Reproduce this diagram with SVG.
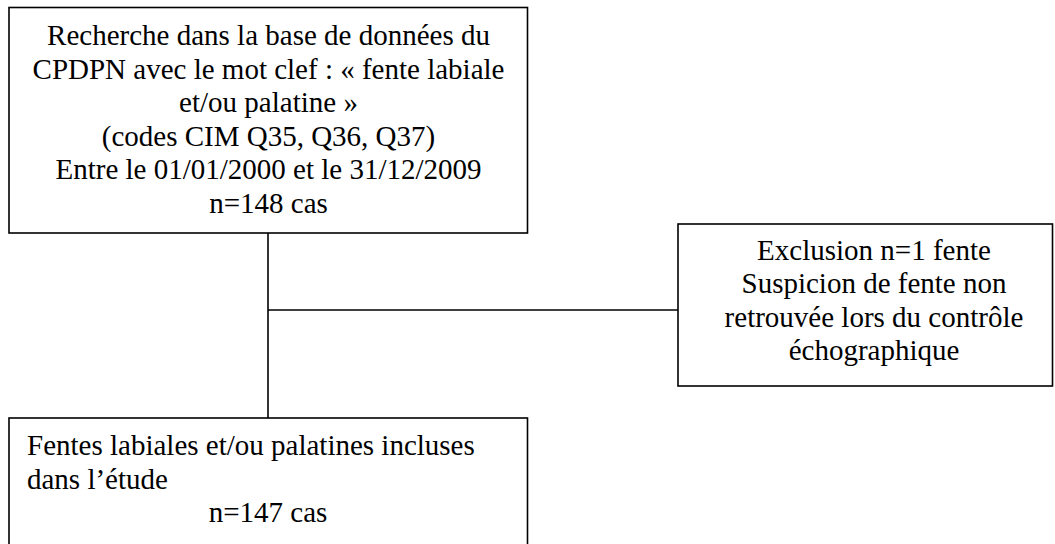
<svg xmlns="http://www.w3.org/2000/svg" width="1055" height="544" viewBox="0 0 1055 544">
<style>
.box{fill:#fff;stroke:#000;stroke-width:1.6}
.t{font-family:"Liberation Serif","Times New Roman",serif;font-size:29px;fill:#000}
.c{text-anchor:middle}
.ln{stroke:#000;stroke-width:1.6;fill:none}
</style>
<rect width="1055" height="544" fill="#fff"/>
<g id="connectors">
<line class="ln" x1="268" y1="233" x2="268" y2="418"/>
<line class="ln" x1="268" y1="310" x2="678" y2="310"/>
</g>
<g id="search">
<rect class="box" x="9" y="7.5" width="518.5" height="225.5"/>
<text class="t c" x="268.5" y="45">Recherche dans la base de données du</text>
<text class="t c" x="268.5" y="78.6">CPDPN avec le mot clef : « fente labiale</text>
<text class="t c" x="268.5" y="112.2">et/ou palatine »</text>
<text class="t c" x="268.5" y="145.8">(codes CIM Q35, Q36, Q37)</text>
<text class="t c" x="268.5" y="179.4">Entre le 01/01/2000 et le 31/12/2009</text>
<text class="t c" x="268.5" y="213">n=148 cas</text>
</g>
<g id="exclusion">
<rect class="box" x="678" y="224" width="374.5" height="162"/>
<text class="t c" x="874" y="259.5">Exclusion n=1 fente</text>
<text class="t c" x="874" y="293">Suspicion de fente non</text>
<text class="t c" x="874" y="326.5">retrouvée lors du contrôle</text>
<text class="t c" x="874" y="360">échographique</text>
</g>
<g id="included">
<rect class="box" x="9" y="418" width="518.5" height="140"/>
<text class="t" x="27" y="455">Fentes labiales et/ou palatines incluses</text>
<text class="t" x="27" y="488.6">dans l’étude</text>
<text class="t c" x="268" y="522">n=147 cas</text>
</g>
</svg>
